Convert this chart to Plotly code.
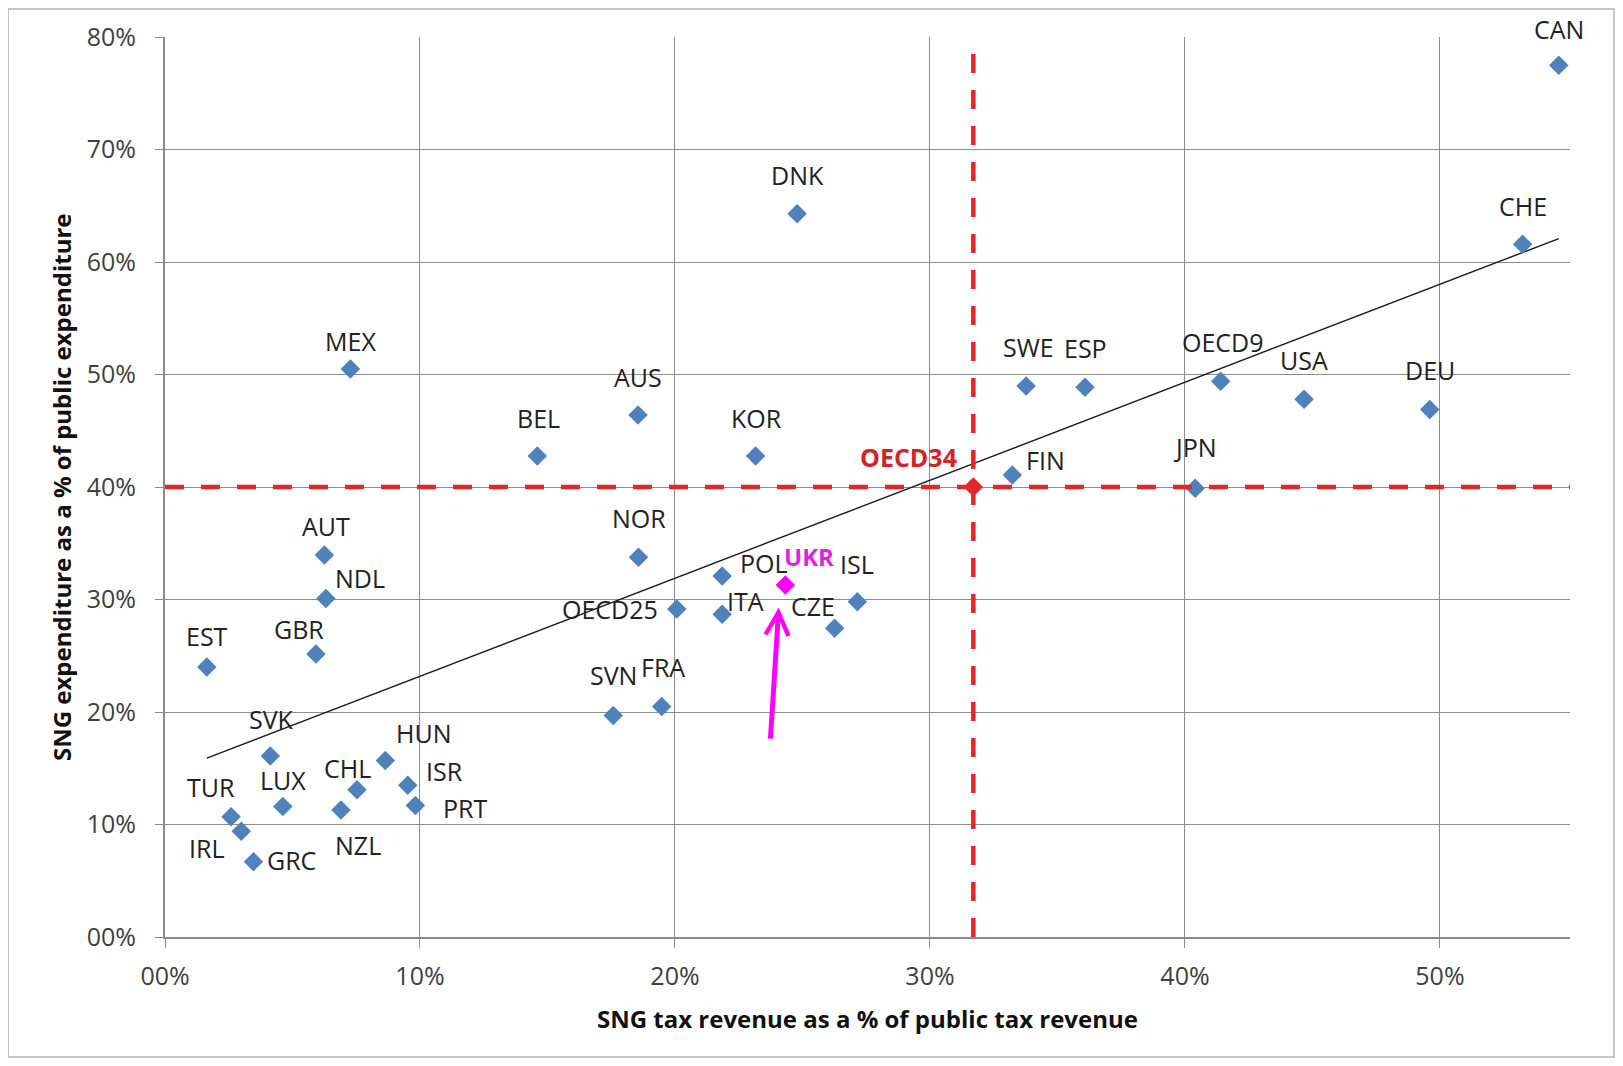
import plotly.graph_objects as go

# ---- Data (fractions) ----
countries = ["CAN", "CHE", "DNK", "MEX", "AUS", "BEL", "KOR", "SWE", "ESP", "OECD9",
             "USA", "DEU", "FIN", "JPN", "AUT", "NDL", "NOR", "POL", "ISL", "OECD25",
             "ITA", "CZE", "GBR", "EST", "SVN", "FRA", "SVK", "HUN", "ISR", "CHL",
             "PRT", "LUX", "NZL", "TUR", "IRL", "GRC"]
tax_share = [0.5466, 0.5324, 0.2479, 0.0727, 0.1855, 0.1460, 0.2316, 0.3377, 0.3608, 0.4140,
             0.4467, 0.4960, 0.3323, 0.4040, 0.0625, 0.0631, 0.1857, 0.2185, 0.2715, 0.2007,
             0.2185, 0.2626, 0.0592, 0.0164, 0.1758, 0.1948, 0.0413, 0.0864, 0.0952, 0.0753,
             0.0982, 0.0462, 0.0690, 0.0259, 0.0299, 0.0347]
exp_share = [0.775, 0.6157, 0.643, 0.505, 0.464, 0.4275, 0.4275, 0.4898, 0.4886, 0.494,
             0.478, 0.469, 0.4107, 0.399, 0.3396, 0.301, 0.3375, 0.321, 0.298, 0.2916,
             0.287, 0.2744, 0.2516, 0.240, 0.197, 0.205, 0.161, 0.157, 0.135, 0.131,
             0.117, 0.116, 0.113, 0.107, 0.094, 0.067]

ukr_label = "UKR"
ukr_tax = 0.2433
ukr_exp = 0.313

oecd34_label = "OECD34"
oecd34_tax = 0.317
oecd34_exp = 0.400

# linear trend
trend_slope = 0.871
trend_intercept = 0.1447

# arrow pointing at UKR (tail -> tip), in data units
arrow_tail = (0.2374, 0.175)
arrow_tip = (0.2407, 0.293)

x_ticks = [0.0, 0.1, 0.2, 0.3, 0.4, 0.5]
x_ticktext = ["00%", "10%", "20%", "30%", "40%", "50%"]
y_ticks = [0.0, 0.1, 0.2, 0.3, 0.4, 0.5, 0.6, 0.7, 0.8]
y_ticktext = ["00%", "10%", "20%", "30%", "40%", "50%", "60%", "70%", "80%"]
x_range = [0, 0.551]
y_range = [0, 0.8]

x_title = "SNG tax revenue as a % of public tax revenue"
y_title = "SNG expenditure as a % of public expenditure"

# ---- label placement (pixel offsets: right, up) ----
label_offsets = {
    "CAN": (0, 36), "CHE": (0, 38), "DNK": (0, 39), "MEX": (0, 28), "AUS": (0, 38),
    "BEL": (1, 38), "KOR": (1, 38), "SWE": (2, 39), "ESP": (0, 39), "OECD9": (2, 39),
    "USA": (0, 39), "DEU": (0, 39), "FIN": (33, 15), "JPN": (0, 41), "AUT": (2, 29),
    "NDL": (34, 20), "NOR": (0, 39), "POL": (42, 13), "ISL": (0, 38), "OECD25": (-67, 0),
    "ITA": (23, 13), "CZE": (-22, 22), "GBR": (-17, 25), "EST": (0, 31), "SVN": (0, 40),
    "FRA": (1, 39), "SVK": (1, 37), "HUN": (38, 27), "ISR": (37, 14), "CHL": (-10, 22),
    "PRT": (50, -3), "LUX": (0, 27), "NZL": (17, -35), "TUR": (-20, 30), "IRL": (-35, -17),
    "GRC": (38, 2),
}
ukr_offset = (24, 28)
oecd34_offset = (-65, 30)

FONT = "Open Sans"
BLUE = "#4F81BD"
RED = "#E3262B"
MAGENTA = "#FF00FF"
GRID = "#8C8C8C"

fig = go.Figure()

# trend line
tx = [min(tax_share), max(tax_share)]
ty = [trend_intercept + trend_slope * v for v in tx]
fig.add_trace(go.Scatter(x=tx, y=ty, mode="lines",
                         line=dict(color="#1a1a1a", width=1.4), hoverinfo="skip"))

# countries
fig.add_trace(go.Scatter(x=tax_share, y=exp_share, mode="markers", text=countries,
                         marker=dict(symbol="diamond", size=15, color=BLUE, line=dict(width=0))))

# UKR
fig.add_trace(go.Scatter(x=[ukr_tax], y=[ukr_exp], mode="markers",
                         marker=dict(symbol="diamond", size=15, color=MAGENTA, line=dict(width=0))))

# OECD34 reference lines
dash = "19px,17px"
fig.add_trace(go.Scatter(x=x_range, y=[oecd34_exp, oecd34_exp], mode="lines",
                         line=dict(color=RED, width=4.5, dash=dash), hoverinfo="skip"))
fig.add_trace(go.Scatter(x=[oecd34_tax, oecd34_tax], y=y_range, mode="lines",
                         line=dict(color=RED, width=4.5, dash=dash), hoverinfo="skip"))
fig.add_trace(go.Scatter(x=[oecd34_tax], y=[oecd34_exp], mode="markers",
                         marker=dict(symbol="diamond", size=15, color=RED, line=dict(width=0))))

annotations = []
for c, xv, yv in zip(countries, tax_share, exp_share):
    dx, dy = label_offsets[c]
    annotations.append(dict(x=xv, y=yv, xref="x", yref="y", text=c, showarrow=False,
                            xshift=dx, yshift=dy, xanchor="center", yanchor="middle",
                            font=dict(family=FONT, size=25, color="#222222")))
annotations.append(dict(x=ukr_tax, y=ukr_exp, xref="x", yref="y", text="<b>%s</b>" % ukr_label,
                        showarrow=False, xshift=ukr_offset[0], yshift=ukr_offset[1],
                        font=dict(family=FONT, size=24, color="#E41FE4")))
annotations.append(dict(x=oecd34_tax, y=oecd34_exp, xref="x", yref="y",
                        text="<b>%s</b>" % oecd34_label, showarrow=False,
                        xshift=oecd34_offset[0], yshift=oecd34_offset[1],
                        font=dict(family=FONT, size=25, color="#D02428")))
# arrow
annotations.append(dict(x=arrow_tip[0], y=arrow_tip[1], ax=arrow_tail[0], ay=arrow_tail[1],
                        xref="x", yref="y", axref="x", ayref="y", text="", showarrow=True,
                        arrowhead=5, arrowsize=0.9, arrowwidth=5, arrowcolor=MAGENTA, standoff=0))
# axis titles
annotations.append(dict(x=0.5, y=-0.0911, xref="paper", yref="paper", text="<b>%s</b>" % x_title,
                        showarrow=False, xanchor="center", yanchor="middle",
                        font=dict(family=FONT, size=24, color="#111111")))
annotations.append(dict(x=-0.074, y=0.5, xref="paper", yref="paper", text="<b>%s</b>" % y_title,
                        showarrow=False, textangle=-90, xanchor="center", yanchor="middle",
                        font=dict(family=FONT, size=24, color="#111111")))

# page body has an 8px margin; size/margins compensate so the plot area lands at 165..1570 x 37..937
fig.update_layout(
    width=1607, height=1050,
    margin=dict(l=157, r=45, t=29, b=121),
    paper_bgcolor="white", plot_bgcolor="white",
    showlegend=False,
    annotations=annotations,
    shapes=[dict(type="rect", xref="paper", yref="paper",
                 x0=-0.1117, x1=1.0313, y0=-0.1333, y1=1.0311,
                 line=dict(color="#B5B5B5", width=1.5), layer="below")],
    xaxis=dict(range=x_range, tickvals=x_ticks, ticktext=x_ticktext,
               showgrid=True, gridcolor=GRID, gridwidth=1.3, zeroline=False,
               showline=True, linecolor=GRID, linewidth=2,
               ticks="outside", ticklen=9, tickcolor=GRID, tickwidth=1.3,
               ticklabelstandoff=7,
               tickfont=dict(family=FONT, size=25, color="#404040")),
    yaxis=dict(range=y_range, tickvals=y_ticks, ticktext=y_ticktext,
               showgrid=True, gridcolor=GRID, gridwidth=1.3, zeroline=False,
               showline=True, linecolor=GRID, linewidth=2,
               ticks="outside", ticklen=8, tickcolor=GRID, tickwidth=1.3,
               ticklabelstandoff=14,
               tickfont=dict(family=FONT, size=25, color="#404040")),
)

fig.write_html("out.html")
